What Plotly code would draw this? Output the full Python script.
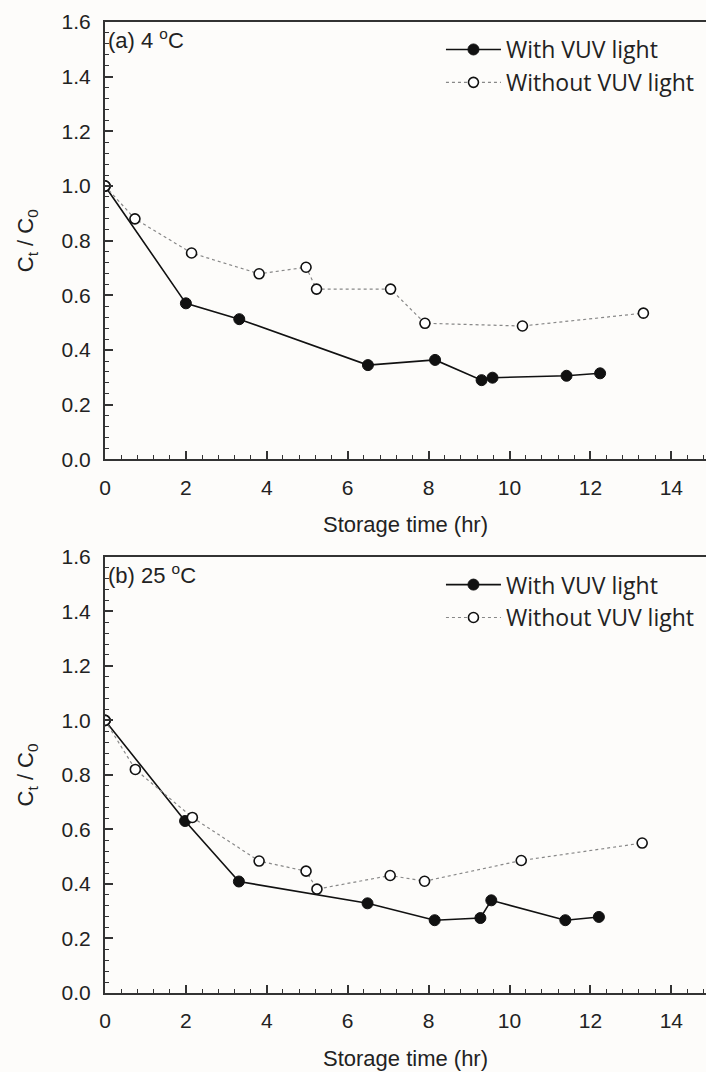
import plotly.graph_objects as go
from plotly.subplots import make_subplots

# Panel (a) 4 °C
a_with_x = [0, 2.0, 3.32, 6.50, 8.16, 9.31, 9.58, 11.41, 12.24]
a_with_y = [1.0, 0.571, 0.513, 0.345, 0.364, 0.290, 0.299, 0.306, 0.315]
a_without_x = [0, 0.74, 2.14, 3.81, 4.97, 5.23, 7.06, 7.91, 10.32, 13.31]
a_without_y = [1.0, 0.880, 0.755, 0.679, 0.703, 0.623, 0.623, 0.498, 0.488, 0.535]

# Panel (b) 25 °C
b_with_x = [0, 1.98, 3.31, 6.49, 8.15, 9.28, 9.55, 11.38, 12.21]
b_with_y = [1.0, 0.631, 0.409, 0.329, 0.267, 0.275, 0.340, 0.267, 0.279]
b_without_x = [0, 0.75, 2.16, 3.81, 4.97, 5.24, 7.05, 7.90, 10.29, 13.28]
b_without_y = [1.0, 0.820, 0.644, 0.484, 0.447, 0.381, 0.431, 0.410, 0.486, 0.550]

panel_labels = ["(a) 4 <sup>o</sup>C", "(b) 25 <sup>o</sup>C"]
series_names = ["With VUV light", "Without VUV light"]
x_title = "Storage time (hr)"
y_title = "C<sub>t</sub> / C<sub>0</sub>"

TICKFONT = dict(family="Liberation Sans, Arial", size=21, color="#222")
LEGFONT = dict(family="Open Sans, Noto Sans", size=23, color="#222")

fig = make_subplots(rows=2, cols=1, vertical_spacing=0.1)

panels = [
    (a_with_x, a_with_y, a_without_x, a_without_y, "legend"),
    (b_with_x, b_with_y, b_without_x, b_without_y, "legend2"),
]
for i, (wx, wy, ox, oy, leg) in enumerate(panels, start=1):
    fig.add_trace(go.Scatter(
        x=wx, y=wy, mode="lines+markers", name=series_names[0], legend=leg,
        line=dict(color="#111", width=1.6),
        marker=dict(symbol="circle", size=11, color="#111", line=dict(color="#111", width=1)),
    ), row=i, col=1)
    fig.add_trace(go.Scatter(
        x=ox, y=oy, mode="lines+markers", name=series_names[1], legend=leg,
        line=dict(color="#888", width=1.2, dash="dot"),
        marker=dict(symbol="circle", size=10, color="white", line=dict(color="#111", width=1.6)),
    ), row=i, col=1)

xmax = (706 - 105) / 40.45
axis_common = dict(
    showline=True, linecolor="#333", linewidth=2, showgrid=False, zeroline=False,
    ticks="inside", ticklen=8, tickwidth=1.5, tickcolor="#333",
    tickfont=TICKFONT,
)
for i, (dom) in enumerate([[0.5495, 1.0], [0.0, 0.4492]], start=1):
    xa = "xaxis" if i == 1 else "xaxis2"
    ya = "yaxis" if i == 1 else "yaxis2"
    fig.layout[xa].update(
        range=[0, xmax], dtick=2, tick0=0, mirror=True,
        minor=dict(dtick=0.4, tick0=0, ticks="inside", ticklen=4, tickwidth=1.2, tickcolor="#333"),
        ticklabelstandoff=8,
        title=dict(text=x_title, font=dict(family="Liberation Sans, Arial", size=22, color="#222"), standoff=19),
        **axis_common,
    )
    fig.layout[ya].update(
        range=[0, 1.6], dtick=0.2, tick0=0, tickformat=".1f", domain=dom, mirror=False,
        minor=dict(dtick=0.04, tick0=0, ticks="inside", ticklen=4, tickwidth=1.2, tickcolor="#333"),
        ticklabelstandoff=8,
        title=dict(text=y_title, font=dict(family="Liberation Sans, Arial", size=22, color="#222"), standoff=22),
        **axis_common,
    )

for i, lab in enumerate(panel_labels):
    yref = "y domain" if i == 0 else "y2 domain"
    xref = "x domain" if i == 0 else "x2 domain"
    fig.add_annotation(text=lab, xref=xref, yref=yref, x=0, y=1, xanchor="left", yanchor="top",
                       xshift=1, yshift=-1, showarrow=False,
                       font=dict(family="Liberation Sans, Arial", size=22, color="#222"))

leg_common = dict(bgcolor="rgba(0,0,0,0)", font=LEGFONT, xanchor="left", yanchor="top",
                  tracegroupgap=0, itemwidth=55)
fig.update_layout(
    width=706, height=1072,
    margin=dict(l=105, r=0, t=22, b=79),
    paper_bgcolor="#fdfcfa", plot_bgcolor="#fdfcfa",
    showlegend=True,
    legend=dict(x=0.559, y=0.9938, **leg_common),
    legend2=dict(x=0.559, y=0.4427, **leg_common),
)

fig.write_html("out.html", config={"displayModeBar": False},
               post_script="document.body.style.margin='0';document.body.style.overflow='hidden';")
